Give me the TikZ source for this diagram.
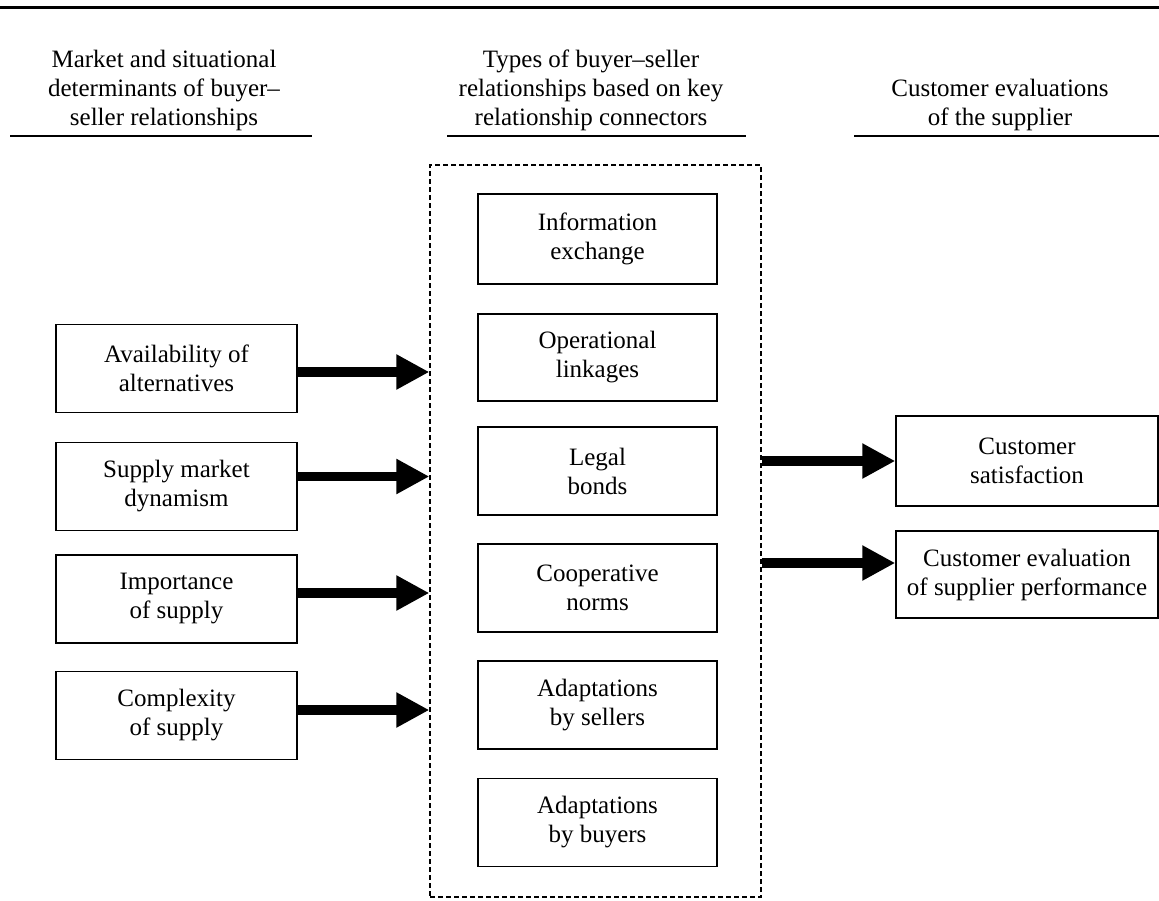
\documentclass[tikz,border=0pt]{standalone}
\usepackage{fontspec}
\setmainfont{Liberation Serif}
\usetikzlibrary{arrows.meta}
\begin{document}
\begin{tikzpicture}[x=1pt,y=-1pt,
  txt/.style={font=\fontsize{25}{29}\selectfont},
  box/.style={txt, draw, line width=1.4pt, align=center, inner sep=0pt, minimum height=88pt},
  leftbox/.style={box, minimum width=241pt},
  midbox/.style={box, minimum width=239pt},
  rightbox/.style={box, minimum width=262pt},
  head/.style={txt, align=center, inner sep=0pt},
  headrule/.style={line width=2pt},
  framebox/.style={draw, line width=1.3pt, dash pattern=on 5pt off 3pt, inner sep=0pt,
                   minimum width=331pt, minimum height=732pt},
  bigarrow/.style={line width=9.5pt, -{Triangle[length=33pt,width=33pt]}}]
\useasboundingbox (0,0) rectangle (1159,900);

% top rule of the figure
\draw[line width=3pt] (0,7) -- (1159,7);

% column headings
\node[head] (hleft) at (164,90) {Market and situational\\determinants of buyer\textendash\\seller relationships};
\node[head] (hmid) at (591,90) {Types of buyer\textendash seller\\relationships based on key\\relationship connectors};
\node[head] (hright) at (1000,104.5) {Customer evaluations\\of the supplier};
\draw[headrule] (10,136) -- (312,136);
\draw[headrule] (447,136) -- (746,136);
\draw[headrule] (854,136) -- (1159,136);

% determinants
\node[leftbox] (avail) at (176.5,368.5) {Availability of\\alternatives};
\node[leftbox] (supply) at (176.5,486.5) {Supply market\\dynamism};
\node[leftbox] (import) at (176.5,599) {Importance\\of supply};
\node[leftbox] (complex) at (176.5,715.5) {Complexity\\of supply};

% relationship connectors
\node[framebox] (frame) at (595.5,531) {};
\node[midbox, minimum height=90pt] (info) at (597.5,239) {Information\\exchange};
\node[midbox, minimum height=87pt] (oper) at (597.5,357.5) {Operational\\linkages};
\node[midbox] (legal) at (597.5,471) {Legal\\bonds};
\node[midbox] (norms) at (597.5,588) {Cooperative\\norms};
\node[midbox] (sellers) at (597.5,705) {Adaptations\\by sellers};
\node[midbox] (buyers) at (597.5,822.5) {Adaptations\\by buyers};

% customer evaluations
\node[rightbox, minimum height=90pt] (satis) at (1027,461) {Customer\\satisfaction};
\node[rightbox, minimum height=87pt] (eval) at (1027,574.5) {Customer evaluation\\of supplier performance};

% arrows into the relationship block
\coordinate (a1) at ([yshift=-3.5pt]avail.east);
\coordinate (a2) at ([yshift=10pt]supply.east);
\coordinate (a3) at ([yshift=6pt]import.east);
\coordinate (a4) at ([yshift=5.5pt]complex.east);
\foreach \c in {a1,a2,a3,a4}
  \draw[bigarrow] (\c) -- (\c -| frame.west);

% arrows out of the relationship block
\coordinate (b1) at (satis.west);
\coordinate (b2) at ([yshift=11.5pt]eval.west);
\foreach \c in {b1,b2}
  \draw[bigarrow] (\c -| frame.east) -- (\c);
\end{tikzpicture}
\end{document}
